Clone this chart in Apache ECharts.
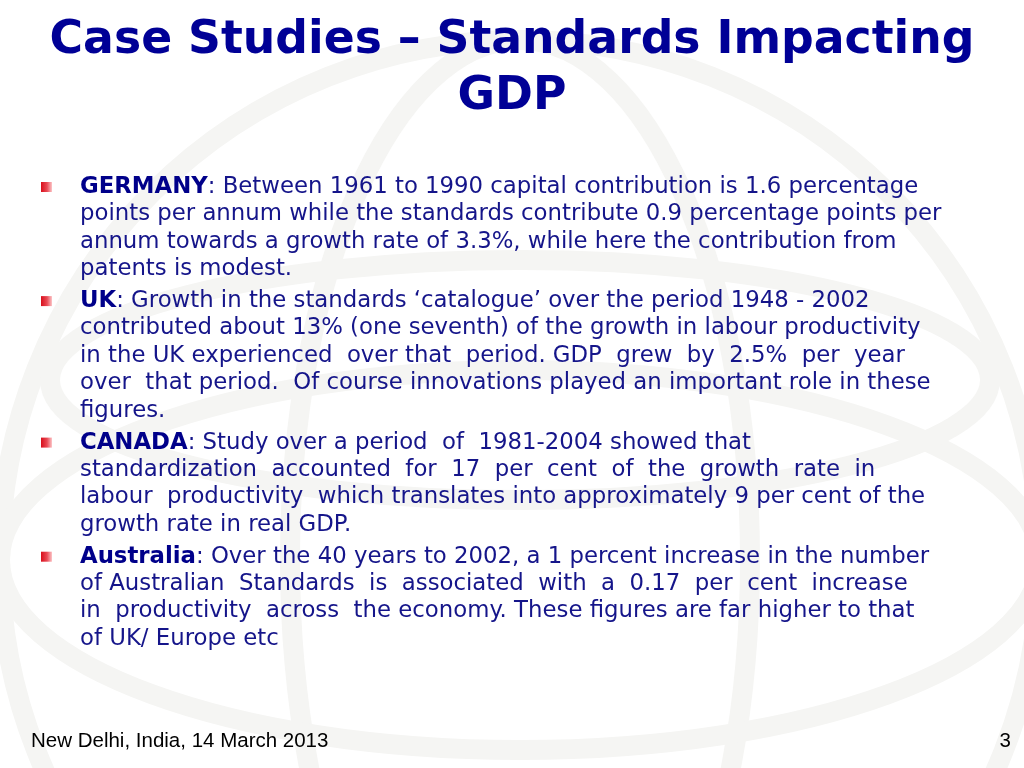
<!DOCTYPE html>
<html><head><meta charset="utf-8">
<script src="https://cdn.jsdelivr.net/npm/echarts@6/dist/echarts.min.js"></script>
<style>html,body{margin:0;padding:0;background:#fff}#c{width:1024px;height:768px}</style>
</head><body><div id="c"></div>
<script>
const titleLines = ['Case Studies – Standards Impacting', 'GDP'];
const keywords = ['GERMANY', 'UK', 'CANADA', 'Australia'];
const paragraphs = [
  [': Between 1961 to 1990 capital contribution is 1.6 percentage',
   'points per annum while the standards contribute 0.9 percentage points per',
   'annum towards a growth rate of 3.3%, while here the contribution from',
   'patents is modest.'],
  [': Growth in the standards ‘catalogue’ over the period 1948 - 2002',
   'contributed about 13% (one seventh) of the growth in labour productivity',
   'in the UK experienced  over that  period. GDP  grew  by  2.5%  per  year',
   'over  that period.  Of course innovations played an important role in these',
   'figures.'],
  [': Study over a period  of  1981-2004 showed that',
   'standardization  accounted  for  17  per  cent  of  the  growth  rate  in',
   'labour  productivity  which translates into approximately 9 per cent of the',
   'growth rate in real GDP.'],
  [': Over the 40 years to 2002, a 1 percent increase in the number',
   'of Australian  Standards  is  associated  with  a  0.17  per  cent  increase',
   'in  productivity  across  the economy. These figures are far higher to that',
   'of UK/ Europe etc']
];
const footerText = 'New Delhi, India, 14 March 2013';
const pageNumber = '3';

const chart = echarts.init(document.getElementById('c'), null, {renderer: 'canvas'});
const bodyColor = '#15158a';
const bodyFont = '"DejaVu Sans", Verdana, sans-serif';
const els = [];

// very faint watermark globe
const wm = {stroke: '#f5f5f3', lineWidth: 20, fill: null};
els.push({type: 'circle', shape: {cx: 520, cy: 560, r: 520}, style: wm, silent: true, z: 0});
els.push({type: 'ellipse', shape: {cx: 520, cy: 560, rx: 230, ry: 520}, style: wm, silent: true, z: 0});
els.push({type: 'ellipse', shape: {cx: 520, cy: 560, rx: 520, ry: 190}, style: wm, silent: true, z: 0});
els.push({type: 'ellipse', shape: {cx: 520, cy: 380, rx: 470, ry: 120}, style: wm, silent: true, z: 0});

titleLines.forEach((t, i) => {
  els.push({type: 'text', x: 512, y: 41 + i * 56, z: 5, style: {
    text: t, fill: '#000096', font: 'bold 45.7px "DejaVu Sans", Verdana, sans-serif',
    textAlign: 'center', textVerticalAlign: 'middle'}});
});

let y = 187;
const lineH = 27.4;
paragraphs.forEach((lines, p) => {
  els.push({type: 'rect', shape: {x: 41, y: y - 5, width: 11, height: 10}, z: 5,
    style: {fill: new echarts.graphic.LinearGradient(0, 0, 1, 0, [
      {offset: 0, color: '#d80f1c'}, {offset: 0.55, color: '#ea4a55'}, {offset: 1, color: '#fcc6c8'}])}});
  lines.forEach((ln, i) => {
    const txt = i === 0 ? '{b|' + keywords[p] + '}{n|' + ln + '}' : '{n|' + ln + '}';
    els.push({type: 'text', x: 80, y: y, z: 5, style: {
      text: txt, textVerticalAlign: 'middle',
      rich: {
        b: {fill: '#00008a', font: 'bold 22.8px ' + bodyFont},
        n: {fill: bodyColor, font: '22.8px ' + bodyFont}
      }}});
    y += lineH;
  });
  y += 4.5;
});

els.push({type: 'text', x: 31, y: 741, z: 5, style: {text: footerText, fill: '#000',
  font: '20.5px "Liberation Sans Narrow", "Liberation Sans", Arial, sans-serif', textVerticalAlign: 'middle'}});
els.push({type: 'text', x: 1011, y: 741, z: 5, style: {text: pageNumber, fill: '#000',
  font: '20.5px "Liberation Sans", Arial, sans-serif', textAlign: 'right', textVerticalAlign: 'middle'}});

chart.setOption({backgroundColor: '#ffffff', animation: false, graphic: {elements: els}});
</script></body></html>
